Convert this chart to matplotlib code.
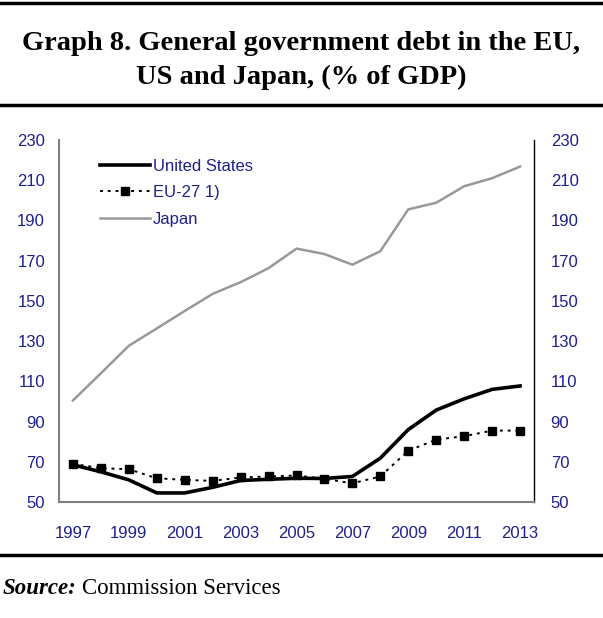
import matplotlib
matplotlib.use("Agg")
import matplotlib.pyplot as plt
from matplotlib.lines import Line2D

years = list(range(1997, 2014))
us = [68.5, 65.0, 61.0, 54.5, 54.5, 57.3, 60.7, 61.3, 61.8, 61.7, 62.7, 71.8, 86.0, 95.7, 101.3, 106.0, 107.7]
eu27 = [69.0, 66.8, 66.3, 61.8, 61.0, 60.5, 62.2, 62.7, 63.2, 61.5, 59.3, 62.7, 75.5, 81.0, 82.7, 85.5, 85.5]
japan = [100.5, 114.0, 127.7, 136.3, 145.0, 153.5, 159.3, 166.3, 176.0, 173.3, 168.0, 174.7, 195.5, 198.8, 207.0, 211.0, 216.8]
yticks = list(range(50, 231, 20))
xticks = list(range(1997, 2014, 2))
labels = ["United States", "EU-27 1)", "Japan"]

navy = "#1f1f8f"
W, H = 603, 618
fig = plt.figure(figsize=(W / 100, H / 100), dpi=100)

# Frame lines
for yy, lw in [(3, 2.5), (105, 2.5), (555, 2.5)]:
    fig.add_artist(Line2D([0, 1], [1 - yy / H, 1 - yy / H], color="black", lw=lw, transform=fig.transFigure))

fig.text(0.5, 1 - 43 / H, "Graph 8. General government debt in the EU,", ha="center", va="center",
         fontfamily="Liberation Serif", fontweight="bold", fontsize=20.5)
fig.text(0.5, 1 - 77 / H, "US and Japan, (% of GDP)", ha="center", va="center",
         fontfamily="Liberation Serif", fontweight="bold", fontsize=20.5)

src = fig.text(3 / W, 1 - 589 / H, "Source:", ha="left", va="center", fontfamily="Liberation Serif",
               fontweight="bold", fontstyle="italic", fontsize=16.5)
fig.canvas.draw()
bb = src.get_window_extent(renderer=fig.canvas.get_renderer())
fig.text((bb.x1 + 5) / W, 1 - 589 / H, "Commission Services", ha="left", va="center",
         fontfamily="Liberation Serif", fontsize=16.5)

left, right, bottom, top = 59 / W, 534 / W, 1 - 502 / H, 1 - 140 / H
ax = fig.add_axes([left, bottom, right - left, top - bottom])

ax.plot(years, us, color="black", lw=2.6, label=labels[0], solid_joinstyle="round")
ax.plot(years, eu27, color="black", lw=1.4, linestyle=(0, (1.5, 2.5)), marker="s", markersize=6,
        markerfacecolor="black", markeredgecolor="black", label=labels[1])
ax.plot(years, japan, color="#999999", lw=1.8, label=labels[2])

ax.set_xlim(1996.5, 2013.5)
ax.set_ylim(50, 230)
ax.set_xticks(xticks)
ax.set_xticklabels([str(x) for x in xticks])
ax.set_yticks(yticks)
ax.tick_params(axis="both", length=0, labelcolor=navy, labelsize=12)
ax.tick_params(axis="x", pad=17)
ax.tick_params(axis="y", pad=10)
for lab in ax.get_xticklabels() + ax.get_yticklabels():
    lab.set_fontfamily("Liberation Sans")

ax.spines["top"].set_visible(False)
ax.spines["right"].set_color("black")
ax.spines["right"].set_linewidth(1.0)
ax.spines["left"].set_color("#808080")
ax.spines["left"].set_linewidth(1.5)
ax.spines["bottom"].set_color("#808080")
ax.spines["bottom"].set_linewidth(1.5)

ax2 = ax.twinx()
ax2.set_ylim(50, 230)
ax2.set_yticks(yticks)
ax2.tick_params(axis="y", length=0, labelcolor=navy, labelsize=12, pad=12)
for lab in ax2.get_yticklabels():
    lab.set_fontfamily("Liberation Sans")
for s in ["top", "left", "bottom", "right"]:
    ax2.spines[s].set_visible(False)

leg = ax.legend(loc="upper left", bbox_to_anchor=(0.055, 0.99), frameon=False, handlelength=3.0,
                handletextpad=0.15, labelspacing=0.7, prop={"family": "Liberation Sans", "size": 12})
for t in leg.get_texts():
    t.set_color(navy)

fig.savefig("out.png", dpi=100)
